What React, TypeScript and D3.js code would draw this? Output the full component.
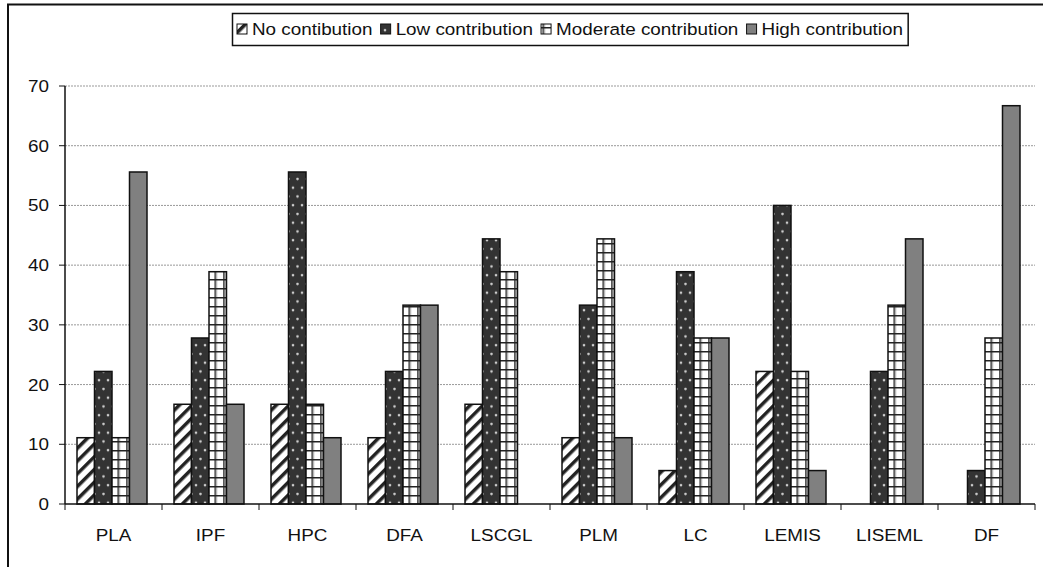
import React from "react";
import * as d3 from "d3";

const categories = ["PLA", "IPF", "HPC", "DFA", "LSCGL", "PLM", "LC", "LEMIS", "LISEML", "DF"];
const seriesNames = ["No contibution", "Low contribution", "Moderate contribution", "High contribution"];
const noContribution = [11.1, 16.7, 16.7, 11.1, 16.7, 11.1, 5.6, 22.2, 0, 0];
const lowContribution = [22.2, 27.8, 55.6, 22.2, 44.4, 33.3, 38.9, 50, 22.2, 5.6];
const moderateContribution = [11.1, 38.9, 16.7, 33.3, 38.9, 44.4, 27.8, 22.2, 33.3, 27.8];
const highContribution = [55.6, 16.7, 11.1, 33.3, 0, 11.1, 27.8, 5.6, 44.4, 66.7];
const yTicks = [0, 10, 20, 30, 40, 50, 60, 70];

const seriesValues = [noContribution, lowContribution, moderateContribution, highContribution];
const fills = ["url(#hatch)", "url(#dots)", "url(#grid)", "#808080"];

const FONT = "'Liberation Sans', Arial, sans-serif";
const FS = 17;
const SX = 1.11;

function measure(s: string): number {
  if (typeof document === "undefined") return s.length * 9;
  const c = document.createElement("canvas").getContext("2d");
  if (!c) return s.length * 9;
  c.font = `${FS}px 'Liberation Sans'`;
  return c.measureText(s).width * SX;
}

function T(props: { x: number; y: number; anchor?: string; children: React.ReactNode }) {
  return (
    <text
      transform={`translate(${props.x},${props.y}) scale(${SX},1)`}
      fontSize={FS}
      textAnchor={props.anchor || "start"}
      fill="#111"
    >
      {props.children}
    </text>
  );
}

export default function App() {
  const left = 65, right = 1035, top = 86, bottom = 504;
  const x0 = d3.scaleBand<string>().domain(categories).range([left, right]).padding(0);
  const x1 = d3.scaleBand<number>().domain([0, 1, 2, 3]).range([12, 82]).padding(0);
  const y = d3.scaleLinear().domain([0, 70]).range([bottom, top]);

  const legendItems: { x: number; tx: number; name: string }[] = [];
  let cx = 237;
  seriesNames.forEach((n) => {
    legendItems.push({ x: cx, tx: cx + 15, name: n });
    cx += 15 + measure(n) + 8;
  });
  const legendRight = cx - 8 + 5;

  return (
    <svg width={1043} height={567} style={{ position: "absolute", left: 0, top: 0, background: "#fff" }} fontFamily={FONT}>
      <defs>
        <pattern id="hatch" patternUnits="userSpaceOnUse" width={9} height={9} patternTransform="rotate(45)">
          <rect width={9} height={9} fill="#fff" />
          <rect x={0} y={0} width={3.5} height={9} fill="#222" />
        </pattern>
        <pattern id="dots" patternUnits="userSpaceOnUse" width={9} height={17.5}>
          <rect width={9} height={17.5} fill="#333" />
          <circle cx={2.5} cy={4} r={1.3} fill="#ccc" />
          <circle cx={7} cy={12.7} r={1.3} fill="#ccc" />
        </pattern>
        <pattern id="grid" patternUnits="userSpaceOnUse" width={8.75} height={9}>
          <rect width={8.75} height={9} fill="#fff" />
          <rect x={0} y={0} width={1.5} height={9} fill="#222" />
          <rect x={1.5} y={0} width={1} height={9} fill="#aaa" />
          <rect x={0} y={0} width={8.75} height={1.5} fill="#222" />
        </pattern>
      </defs>

      <rect x={8} y={4.5} width={1100} height={600} fill="none" stroke="#111" strokeWidth={2} />

      {yTicks.filter((t) => t > 0).map((t) => (
        <line key={"g" + t} x1={left} x2={right} y1={y(t)} y2={y(t)} stroke="#999" strokeWidth={1} strokeDasharray="2,1" />
      ))}

      {categories.map((c, i) => (
        <g key={c} transform={`translate(${x0(c)},0)`}>
          {seriesValues.map((vals, s) =>
            vals[i] > 0 ? (
              <rect
                key={s}
                x={x1(s)!}
                y={y(vals[i])}
                width={x1.bandwidth()}
                height={bottom - y(vals[i])}
                fill={fills[s]}
                stroke="#111"
                strokeWidth={1.5}
              />
            ) : null
          )}
        </g>
      ))}

      <line x1={left} x2={left} y1={top} y2={bottom} stroke="#111" strokeWidth={1.5} />
      <line x1={left} x2={right} y1={bottom} y2={bottom} stroke="#111" strokeWidth={1.5} />
      {yTicks.map((t) => (
        <g key={"t" + t}>
          <line x1={left - 6} x2={left} y1={y(t)} y2={y(t)} stroke="#111" strokeWidth={1} />
          <T x={49} y={y(t) + 6} anchor="end">{t}</T>
        </g>
      ))}
      {[...categories.map((c) => x0(c)!), right].map((xx, i) => (
        <line key={"xt" + i} x1={xx} x2={xx} y1={bottom} y2={bottom + 6} stroke="#111" strokeWidth={1} />
      ))}
      {categories.map((c) => (
        <T key={"xl" + c} x={x0(c)! + x0.bandwidth() / 2} y={541} anchor="middle">{c}</T>
      ))}

      <rect x={232.5} y={13.5} width={legendRight - 232.5} height={32} fill="#fff" stroke="#111" strokeWidth={1.5} />
      {legendItems.map((it, s) => (
        <g key={it.name}>
          <rect x={it.x} y={24} width={10} height={10} fill={fills[s]} stroke="#111" strokeWidth={1} />
          <T x={it.tx} y={35}>{it.name}</T>
        </g>
      ))}
    </svg>
  );
}
